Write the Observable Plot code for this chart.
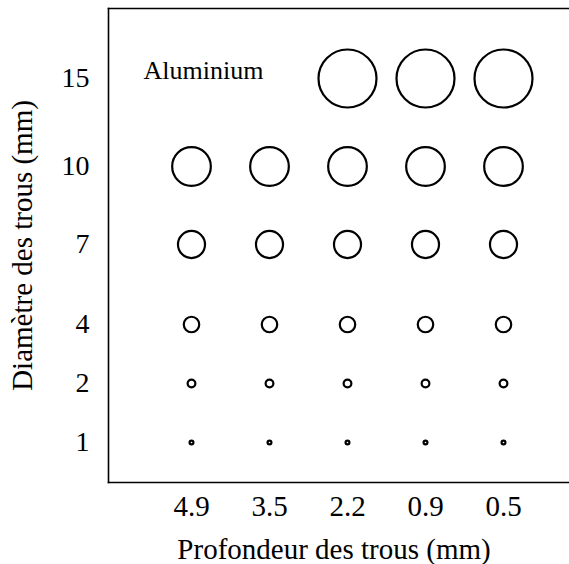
<!DOCTYPE html>
<html>
<head>
<meta charset="utf-8">
<script src="https://cdn.jsdelivr.net/npm/d3@7"></script>
<script src="https://cdn.jsdelivr.net/npm/@observablehq/plot@0.6"></script>
<style>
  html, body { margin: 0; padding: 0; background: white; overflow: hidden; }
</style>
</head>
<body>
<div id="chart"></div>
<script>
// Depth categories (x), hole diameters (y)
const depthLabels = ["4.9", "3.5", "2.2", "0.9", "0.5"];
const diameters = [1, 2, 4, 7, 10, 15];
const depthsAt15 = ["2.2", "0.9", "0.5"];
const annotation = ["Aluminium"];
const xTitle = "Profondeur des trous (mm)";
const yTitle = "Diamètre des trous (mm)";

const holes = diameters.flatMap(d =>
  (d === 15 ? depthsAt15 : depthLabels).map(p => ({depth: p, diameter: d}))
);

const font = "'Liberation Serif', 'Times New Roman', Times, serif";

const chart = Plot.plot({
  width: 569,
  height: 564,
  marginLeft: 108,
  marginTop: 8,
  marginBottom: 82,
  marginRight: 0,
  style: {fontFamily: font, fontSize: "28px", color: "black", background: "white", overflow: "visible"},
  x: {type: "point", domain: depthLabels, padding: 0.5, insetLeft: 42, insetRight: 25},
  y: {type: "linear", domain: diameters, range: [442, 383, 324, 244, 166, 78]},
  r: {type: "linear", domain: [0, 15], range: [0, 29]},
  marks: [
    Plot.frame({anchor: "left", stroke: "black", strokeWidth: 1.6}),
    Plot.frame({anchor: "top", stroke: "black", strokeWidth: 1.6}),
    Plot.frame({anchor: "bottom", stroke: "black", strokeWidth: 1.6}),
    Plot.dot(holes, {x: "depth", y: "diameter", r: "diameter", stroke: "black", strokeWidth: 2.2, fill: "none"}),
    Plot.text(annotation, {x: () => "4.9", y: () => 15, text: d => d, dx: 12, dy: -8, fontSize: 26, fill: "black"}),
    Plot.axisX({tickSize: 0, tickPadding: 13, label: null, fontSize: 29}),
    Plot.axisY({ticks: diameters, tickSize: 0, tickPadding: 19, label: null, fontSize: 28}),
    Plot.text([xTitle], {frameAnchor: "bottom", textAnchor: "middle", lineAnchor: "middle", text: d => d, dx: -5, dy: 67, fontSize: 29, fill: "black"}),
    Plot.text([yTitle], {frameAnchor: "left", textAnchor: "middle", lineAnchor: "middle", text: d => d, rotate: -90, dx: -86, fontSize: 29, fill: "black"})
  ]
});
document.getElementById("chart").appendChild(chart);
</script>
</body>
</html>
